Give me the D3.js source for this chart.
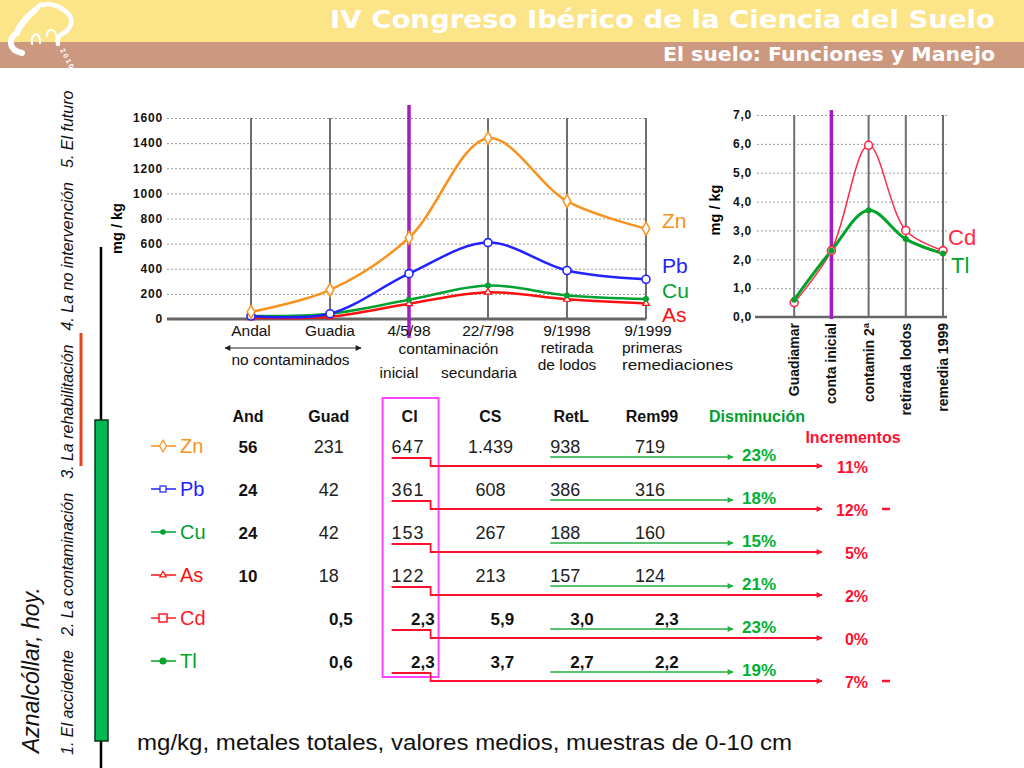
<!DOCTYPE html>
<html lang="es">
<head>
<meta charset="UTF-8" />
<title>Aznalcóllar, hoy</title>
<script src="https://d3js.org/d3.v7.min.js"></script>
<style>
  body { margin: 0; background: #fff; }
  svg { display: block; font-family: "Liberation Sans", Arial, sans-serif; }
</style>
</head>
<body>
<svg width="1024" height="768"></svg>
<script>
// ---- datos ----
const mainCats = ["", "Andal", "Guadia", "4/5/98", "22/7/98", "9/1998", "9/1999"];
const zn = [56, 231, 647, 1439, 938, 719];
const pb = [24, 42, 361, 608, 386, 316];
const cu = [24, 42, 153, 267, 188, 160];
const as = [10, 18, 122, 213, 157, 124];
const mainTicks = [0, 200, 400, 600, 800, 1000, 1200, 1400, 1600];

const smallCats = ["", "Guadiamar", "conta inicial", "contamin 2ª", "retirada lodos", "remedia 1999"];
const cd = [0.5, 2.3, 5.95, 3.0, 2.3];
const tl = [0.6, 2.3, 3.7, 2.7, 2.2];
const smallTicks = [0, 1, 2, 3, 4, 5, 6, 7];

const colNames = ["And", "Guad", "CI", "CS", "RetL", "Rem99"];
const rowNames = ["Zn", "Pb", "Cu", "As", "Cd", "Tl"];
const tableVals = [
  ["56", "231", "647", "1.439", "938", "719"],
  ["24", "42", "361", "608", "386", "316"],
  ["24", "42", "153", "267", "188", "160"],
  ["10", "18", "122", "213", "157", "124"],
  ["", "0,5", "2,3", "5,9", "3,0", "2,3"],
  ["", "0,6", "2,3", "3,7", "2,7", "2,2"]
];
const disminucion = ["23%", "18%", "15%", "21%", "23%", "19%"];
const incrementos = ["11%", "12%", "5%", "2%", "0%", "7%"];
const incNegativo = [false, true, false, false, false, true];

const sections = ["1. El accidente", "2. La contaminación", "3. La rehabilitación", "4. La no intervención", "5. El futuro"];

// ---- colores ----
const C = {
  Zn: "#f7931e", Pb: "#2222ff", Cu: "#00a032", As: "#ff1010",
  Cd: "#ff2a48", Tl: "#00a32a", purple: "#a41cc4", grid: "#9a9a9a", vline: "#6e6e6e"
};

const svg = d3.select("svg");

// ---- defs: flechas ----
const defs = svg.append("defs");
function arrow(id, color, w, h) {
  defs.append("marker").attr("id", id)
    .attr("viewBox", "0 0 10 10").attr("refX", 9).attr("refY", 5)
    .attr("markerUnits", "userSpaceOnUse")
    .attr("markerWidth", w).attr("markerHeight", h)
    .attr("orient", "auto-start-reverse")
    .append("path").attr("d", "M0,0 L10,5 L0,10 z").attr("fill", color);
}
arrow("arrRed", "#ff1030", 9, 6);
arrow("arrGreen", "#22b040", 9, 6);
arrow("arrBlack", "#222", 8, 6);

// ---- cabecera ----
svg.append("rect").attr("x", 0).attr("y", 0).attr("width", 1024).attr("height", 42).attr("fill", "#fce489");
svg.append("rect").attr("x", 0).attr("y", 42).attr("width", 1024).attr("height", 26).attr("fill", "#cc9880");

svg.append("text")
  .attr("x", 995).attr("y", 28).attr("text-anchor", "end")
  .attr("font-family", "'DejaVu Sans Condensed', 'DejaVu Sans', sans-serif")
  .attr("font-weight", "bold").attr("font-size", 25).attr("fill", "#fff")
  .attr("textLength", 665).attr("lengthAdjust", "spacingAndGlyphs")
  .text("IV Congreso Ibérico de la Ciencia del Suelo");
svg.append("text")
  .attr("x", 995).attr("y", 61).attr("text-anchor", "end")
  .attr("font-family", "'DejaVu Sans Condensed', 'DejaVu Sans', sans-serif")
  .attr("font-weight", "bold").attr("font-size", 19).attr("fill", "#fff")
  .attr("textLength", 332).attr("lengthAdjust", "spacingAndGlyphs")
  .text("El suelo: Funciones y Manejo");

// logo (aproximado)
const logo = svg.append("g").attr("fill", "none").attr("stroke", "#fff")
  .attr("stroke-linecap", "round").attr("stroke-linejoin", "round");
logo.append("path").attr("d", "M14,34 C18,22 28,12 41,3 C40,8 38,10 35,13 C28,19 22,26 18,35 Z")
  .attr("fill", "#fff").attr("stroke-width", 2);
logo.append("path").attr("d", "M17,33 C8,38 8,50 22,53").attr("stroke-width", 6);
logo.append("path").attr("d", "M32,44 C29,33 41,30 40,43").attr("stroke-width", 2.2);
logo.append("path").attr("d", "M47,36 C46,28 56,28 56,36").attr("stroke-width", 2.2);
logo.append("path").attr("d", "M43,5 C52,2 64,8 70,16 C74,24 68,31 62,34 C58,36 57,40 58,44")
  .attr("stroke-width", 4.5);
logo.append("text").attr("transform", "translate(60,50) rotate(62)")
  .attr("fill", "#fff").attr("stroke", "none").attr("font-size", 7).attr("font-weight", "bold")
  .attr("letter-spacing", 2).text("2010");

// ---- columna izquierda ----
let sy = 755;
sections.forEach(s => {
  const t = svg.append("text")
    .attr("transform", `translate(73,${sy}) rotate(-90)`)
    .attr("font-size", 16).attr("font-style", "italic").attr("fill", "#111")
    .text(s);
  sy -= t.node().getComputedTextLength() + 14;
});
svg.append("text")
  .attr("transform", "translate(39,753) rotate(-90)")
  .attr("font-size", 23).attr("font-style", "italic").attr("fill", "#111")
  .text("Aznalcóllar, hoy.");
svg.append("line").attr("x1", 101).attr("x2", 101).attr("y1", 247).attr("y2", 768)
  .attr("stroke", "#000").attr("stroke-width", 2.5);
svg.append("rect").attr("x", 95).attr("y", 420).attr("width", 13).attr("height", 321)
  .attr("fill", "#00b852").attr("stroke", "#0b3318").attr("stroke-width", 1.5);
svg.append("line").attr("x1", 81).attr("x2", 81).attr("y1", 333).attr("y2", 466)
  .attr("stroke", "#e8421c").attr("stroke-width", 3);

// ---- gráfico principal ----
const x = d3.scalePoint().domain(mainCats).range([172, 646]);
const y = d3.scaleLinear().domain([0, 1600]).range([319, 118]);
const gMain = svg.append("g");

const yAxis = gMain.append("g").attr("transform", "translate(167,0)")
  .call(d3.axisLeft(y).tickValues(mainTicks).tickSize(-(646 - 167)).tickPadding(4).tickFormat(d3.format("d")));
yAxis.select(".domain").remove();
yAxis.selectAll(".tick line").attr("stroke", C.grid).attr("stroke-dasharray", "2,2");
yAxis.selectAll(".tick text").attr("font-family", "'Liberation Sans', Arial, sans-serif")
  .attr("font-size", 12).attr("font-weight", "bold").attr("letter-spacing", 0.8).attr("fill", "#111");

mainCats.slice(1).forEach(c => {
  if (c === "4/5/98") return;
  gMain.append("line").attr("x1", x(c)).attr("x2", x(c)).attr("y1", y(1600)).attr("y2", y(0))
    .attr("stroke", C.vline).attr("stroke-width", 2);
});
gMain.append("line").attr("x1", 167).attr("x2", 646).attr("y1", y(0)).attr("y2", y(0))
  .attr("stroke", "#666").attr("stroke-width", 3);
gMain.append("line").attr("x1", x("4/5/98")).attr("x2", x("4/5/98")).attr("y1", 105).attr("y2", 338)
  .attr("stroke", C.purple).attr("stroke-width", 3.5);

gMain.append("text").attr("transform", `translate(122,${(y(0) + y(1600)) / 2 + 10}) rotate(-90)`)
  .attr("text-anchor", "middle").attr("font-size", 14.5).attr("font-weight", "bold").text("mg / kg");

const lineMain = d3.line()
  .x((d, i) => x(mainCats[i + 1]))
  .y(d => y(d))
  .curve(d3.curveCatmullRom.alpha(0.5));

const series = [
  { name: "As", values: as, color: C.As, width: 2.5 },
  { name: "Cu", values: cu, color: C.Cu, width: 2.5 },
  { name: "Pb", values: pb, color: C.Pb, width: 2.5 },
  { name: "Zn", values: zn, color: C.Zn, width: 2.5 }
];
series.forEach(s => {
  gMain.append("path").datum(s.values).attr("d", lineMain)
    .attr("fill", "none").attr("stroke", s.color).attr("stroke-width", s.width);
});
function markMain(name, g, px, py, color) {
  if (name === "Zn") {
    g.append("path").attr("d", d3.symbol(d3.symbolDiamond, 50)()).attr("transform", `translate(${px},${py})`)
      .attr("fill", "#fff").attr("stroke", color).attr("stroke-width", 1.5);
  } else if (name === "Pb" || name === "Cd") {
    g.append("circle").attr("cx", px).attr("cy", py).attr("r", 4)
      .attr("fill", "#fff").attr("stroke", color).attr("stroke-width", 1.6);
  } else if (name === "As") {
    g.append("path").attr("d", d3.symbol(d3.symbolTriangle, 20)()).attr("transform", `translate(${px},${py})`)
      .attr("fill", "#fff").attr("stroke", color).attr("stroke-width", 1.2);
  } else {
    g.append("circle").attr("cx", px).attr("cy", py).attr("r", 3).attr("fill", color);
  }
}
series.forEach(s => {
  s.values.forEach((v, i) => markMain(s.name, gMain, x(mainCats[i + 1]), y(v), s.color));
});
const labelMainY = { Zn: 228, Pb: 273, Cu: 298, As: 322 };
series.forEach(s => {
  gMain.append("text").attr("x", 662).attr("y", labelMainY[s.name])
    .attr("font-size", 21).attr("fill", s.color).text(s.name);
});

// etiquetas eje x
const xl = gMain.append("g").attr("font-size", 15.5).attr("fill", "#111").attr("text-anchor", "middle");
mainCats.slice(1).forEach(c => {
  xl.append("text").attr("x", x(c) + (c === "9/1999" ? 2 : 0)).attr("y", 336).text(c);
});
const midNo = (x("Andal") + x("Guadia")) / 2;
gMain.append("line").attr("x1", x("Andal") - 26).attr("x2", x("Guadia") + 31).attr("y1", 348).attr("y2", 348)
  .attr("stroke", "#222").attr("stroke-width", 1.2)
  .attr("marker-start", "url(#arrBlack)").attr("marker-end", "url(#arrBlack)");
xl.append("text").attr("x", midNo).attr("y", 365).text("no contaminados");
xl.append("text").attr("x", (x("4/5/98") + x("22/7/98")) / 2).attr("y", 354).text("contaminación");
xl.append("text").attr("x", x("4/5/98") - 10).attr("y", 378).text("inicial");
xl.append("text").attr("x", x("22/7/98") - 9).attr("y", 378).text("secundaria");
xl.append("text").attr("x", x("9/1998")).attr("y", 353).text("retirada");
xl.append("text").attr("x", x("9/1998")).attr("y", 370).text("de lodos");
xl.append("text").attr("x", x("9/1999") - 24).attr("y", 353).attr("text-anchor", "start").text("primeras");
xl.append("text").attr("x", x("9/1999") - 24).attr("y", 370).attr("text-anchor", "start")
  .attr("textLength", 111).attr("lengthAdjust", "spacingAndGlyphs").text("remediaciones");

// ---- gráfico pequeño ----
const x2 = d3.scalePoint().domain(smallCats).range([757, 943]);
const y2 = d3.scaleLinear().domain([0, 7]).range([317, 115]);
const gSmall = svg.append("g");

const y2Axis = gSmall.append("g").attr("transform", "translate(757,0)")
  .call(d3.axisLeft(y2).tickValues(smallTicks).tickSize(-(947 - 757)).tickPadding(5)
    .tickFormat(d => d.toFixed(1).replace(".", ",")));
y2Axis.select(".domain").remove();
y2Axis.selectAll(".tick line").attr("stroke", C.grid).attr("stroke-dasharray", "2,2");
y2Axis.selectAll(".tick text").attr("font-family", "'Liberation Sans', Arial, sans-serif")
  .attr("font-size", 12).attr("font-weight", "bold").attr("letter-spacing", 0.8).attr("fill", "#111");

smallCats.slice(1).forEach(c => {
  if (c === "conta inicial") return;
  gSmall.append("line").attr("x1", x2(c)).attr("x2", x2(c)).attr("y1", y2(7)).attr("y2", y2(0))
    .attr("stroke", C.vline).attr("stroke-width", 2);
});
gSmall.append("line").attr("x1", 755).attr("x2", 947).attr("y1", y2(0)).attr("y2", y2(0))
  .attr("stroke", "#666").attr("stroke-width", 2.5);
gSmall.append("line").attr("x1", x2("conta inicial")).attr("x2", x2("conta inicial")).attr("y1", 110).attr("y2", 319)
  .attr("stroke", C.purple).attr("stroke-width", 3.5);
gSmall.append("text").attr("transform", `translate(720,${(y2(0) + y2(7)) / 2 - 6}) rotate(-90)`)
  .attr("text-anchor", "middle").attr("font-size", 14.5).attr("font-weight", "bold").text("mg / kg");

const lineSmall = d3.line()
  .x((d, i) => x2(smallCats[i + 1]))
  .y(d => y2(d))
  .curve(d3.curveCatmullRom.alpha(0.5));
gSmall.append("path").datum(cd).attr("d", lineSmall).attr("fill", "none").attr("stroke", C.Cd).attr("stroke-width", 1.5);
gSmall.append("path").datum(tl).attr("d", lineSmall).attr("fill", "none").attr("stroke", C.Tl).attr("stroke-width", 3);
cd.forEach((v, i) => markMain("Cd", gSmall, x2(smallCats[i + 1]), y2(v), C.Cd));
tl.forEach((v, i) => markMain("Tl", gSmall, x2(smallCats[i + 1]), y2(v), C.Tl));
gSmall.append("text").attr("x", 948).attr("y", 245).attr("font-size", 22).attr("fill", C.Cd).text("Cd");
gSmall.append("text").attr("x", 951).attr("y", 273).attr("font-size", 22).attr("fill", C.Tl).text("Tl");
smallCats.slice(1).forEach(c => {
  gSmall.append("text").attr("transform", `translate(${x2(c) + 5},323) rotate(-90)`)
    .attr("text-anchor", "end").attr("font-size", 14).attr("font-weight", "bold").attr("fill", "#111")
    .text(c);
});

// ---- tabla ----
const rowY = d3.scalePoint().domain(rowNames).range([453, 668]);
const colX = d3.scalePoint().domain(colNames).range([248, 652]);
const rowColor = { Zn: C.Zn, Pb: C.Pb, Cu: C.Cu, As: C.As, Cd: "#ff1a2a", Tl: C.Tl };
const gT = svg.append("g");

// recuadro CI
gT.append("rect").attr("x", colX("CI") - 27).attr("y", 398).attr("width", 56).attr("height", 279)
  .attr("fill", "none").attr("stroke", "#ff44ff").attr("stroke-width", 2);

colNames.forEach(c => {
  gT.append("text").attr("x", colX(c)).attr("y", 422).attr("text-anchor", "middle")
    .attr("font-size", 16).attr("font-weight", "bold").attr("fill", "#111").text(c);
});
gT.append("text").attr("x", 757).attr("y", 422).attr("text-anchor", "middle")
  .attr("font-size", 16).attr("font-weight", "bold").attr("fill", "#00a030").text("Disminución");
gT.append("text").attr("x", 853).attr("y", 443).attr("text-anchor", "middle")
  .attr("font-size", 16).attr("font-weight", "bold").attr("fill", "#ff1030").text("Incrementos");

rowNames.forEach((r, ri) => {
  const by = rowY(r);
  const decimal = ri >= 4;
  // leyenda
  gT.append("line").attr("x1", 151).attr("x2", 176).attr("y1", by - 7).attr("y2", by - 7)
    .attr("stroke", rowColor[r]).attr("stroke-width", 1.5);
  if (r === "Zn") {
    gT.append("path").attr("d", d3.symbol(d3.symbolDiamond, 40)()).attr("transform", `translate(163,${by - 7})`)
      .attr("fill", "#fff").attr("stroke", rowColor[r]).attr("stroke-width", 1.2);
  } else if (r === "Pb") {
    gT.append("rect").attr("x", 160).attr("y", by - 10).attr("width", 6).attr("height", 6)
      .attr("fill", "#fff").attr("stroke", rowColor[r]).attr("stroke-width", 1.2);
  } else if (r === "As") {
    gT.append("path").attr("d", d3.symbol(d3.symbolTriangle, 18)()).attr("transform", `translate(163,${by - 7})`)
      .attr("fill", "#fff").attr("stroke", rowColor[r]).attr("stroke-width", 1.2);
  } else if (r === "Cd") {
    gT.append("rect").attr("x", 159).attr("y", by - 11).attr("width", 8).attr("height", 8)
      .attr("fill", "#fff").attr("stroke", rowColor[r]).attr("stroke-width", 1.5);
  } else {
    gT.append("circle").attr("cx", 163).attr("cy", by - 7).attr("r", r === "Tl" ? 3.5 : 2.8).attr("fill", rowColor[r]);
  }
  gT.append("text").attr("x", 180).attr("y", by).attr("font-size", 20).attr("fill", rowColor[r]).text(r);

  // valores
  tableVals[ri].forEach((v, ci) => {
    const col = colNames[ci];
    const t = gT.append("text").attr("y", by).attr("font-size", 18).attr("fill", "#222").text(v);
    if (col === "CI") {
      if (decimal) t.attr("x", colX(col) + 25).attr("text-anchor", "end");
      else t.attr("x", colX(col) - 18).attr("letter-spacing", 1);
    } else if (col === "RetL" || col === "Rem99") {
      t.attr("x", colX(col) - (col === "RetL" ? 21 : 17) + (decimal ? 20 : 0));
    } else {
      t.attr("x", colX(col) + (decimal ? 12 : 0)).attr("text-anchor", "middle");
    }
    if (col === "And" || decimal) t.attr("font-weight", "bold").attr("font-size", 17).attr("fill", "#111");
  });

  // flecha roja escalonada
  const xs = colX("CI") - 18, xstep = colX("CI") + 21;
  gT.append("path")
    .attr("d", `M${xs},${by + 5} H${xstep} V${by + 13} H822`)
    .attr("fill", "none").attr("stroke", "#ff1030").attr("stroke-width", 1.8)
    .attr("marker-end", "url(#arrRed)");
  // flecha verde
  gT.append("line").attr("x1", colX("RetL") - 21).attr("x2", 733).attr("y1", by + 4).attr("y2", by + 4)
    .attr("stroke", "#22b040").attr("stroke-width", 1.5).attr("marker-end", "url(#arrGreen)");

  gT.append("text").attr("x", 742).attr("y", by + 8).attr("font-size", 17).attr("font-weight", "bold")
    .attr("fill", "#00b030").text(disminucion[ri]);
  gT.append("text").attr("x", 868).attr("y", by + 20).attr("text-anchor", "end").attr("font-size", 16)
    .attr("font-weight", "bold").attr("fill", "#ff1030").text(incrementos[ri]);
  if (incNegativo[ri]) {
    gT.append("line").attr("x1", 882).attr("x2", 890).attr("y1", by + 13).attr("y2", by + 13)
      .attr("stroke", "#ff1030").attr("stroke-width", 2.5);
  }
});

// pie
svg.append("text").attr("x", 137).attr("y", 750).attr("font-size", 22).attr("fill", "#111")
  .attr("textLength", 655).attr("lengthAdjust", "spacingAndGlyphs")
  .text("mg/kg, metales totales, valores medios, muestras de 0-10 cm");
</script>
</body>
</html>
